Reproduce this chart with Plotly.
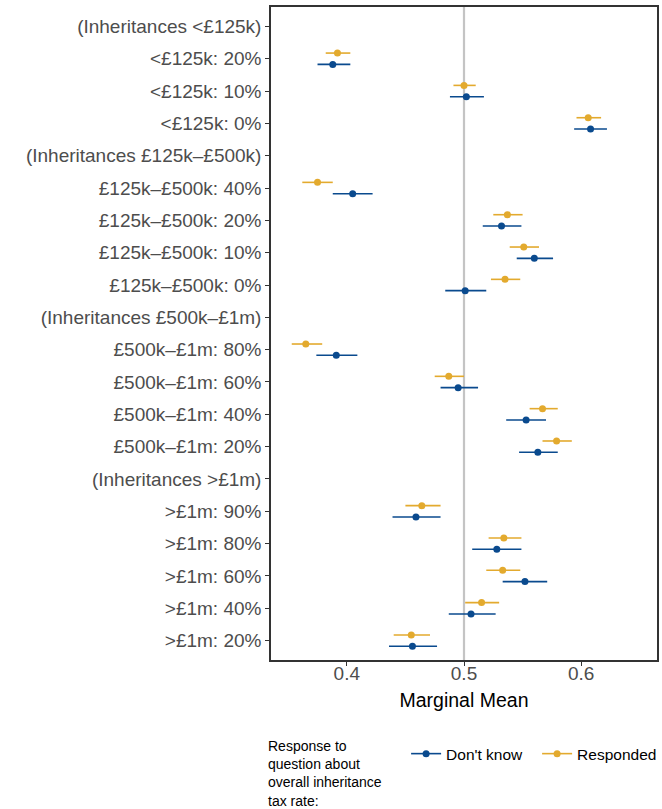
import plotly.graph_objects as go

# Row labels, top to bottom
categories = [
    "(Inheritances <£125k)",
    "<£125k: 20%",
    "<£125k: 10%",
    "<£125k: 0%",
    "(Inheritances £125k–£500k)",
    "£125k–£500k: 40%",
    "£125k–£500k: 20%",
    "£125k–£500k: 10%",
    "£125k–£500k: 0%",
    "(Inheritances £500k–£1m)",
    "£500k–£1m: 80%",
    "£500k–£1m: 60%",
    "£500k–£1m: 40%",
    "£500k–£1m: 20%",
    "(Inheritances >£1m)",
    ">£1m: 90%",
    ">£1m: 80%",
    ">£1m: 60%",
    ">£1m: 40%",
    ">£1m: 20%",
]

# Marginal means and 95% intervals ("Don't know" group)
dk_mean = [None, 0.388, 0.502, 0.608, None, 0.405, 0.532, 0.560, 0.501,
           None, 0.391, 0.495, 0.553, 0.563, None, 0.459, 0.528, 0.552, 0.506, 0.456]
dk_low = [None, 0.375, 0.488, 0.594, None, 0.388, 0.516, 0.545, 0.484,
          None, 0.374, 0.480, 0.536, 0.547, None, 0.439, 0.507, 0.533, 0.487, 0.436]
dk_high = [None, 0.403, 0.517, 0.622, None, 0.422, 0.549, 0.576, 0.519,
           None, 0.409, 0.512, 0.570, 0.580, None, 0.480, 0.549, 0.571, 0.527, 0.477]

# Marginal means and 95% intervals ("Responded" group)
re_mean = [None, 0.392, 0.500, 0.606, None, 0.375, 0.537, 0.551, 0.535,
           None, 0.365, 0.487, 0.567, 0.579, None, 0.464, 0.534, 0.533, 0.515, 0.455]
re_low = [None, 0.382, 0.491, 0.596, None, 0.362, 0.525, 0.539, 0.523,
          None, 0.353, 0.475, 0.556, 0.567, None, 0.450, 0.521, 0.519, 0.501, 0.440]
re_high = [None, 0.403, 0.510, 0.617, None, 0.388, 0.550, 0.564, 0.548,
           None, 0.379, 0.500, 0.580, 0.592, None, 0.480, 0.549, 0.548, 0.530, 0.471]

x_ticks = [0.4, 0.5, 0.6]
x_tick_labels = ["0.4", "0.5", "0.6"]
reference_value = 0.5

BLUE = "#0A4A8E"
GOLD = "#E3AA2E"
DODGE = 0.175
FONT = "Liberation Sans, Arial, sans-serif"

row_pos = list(range(len(categories)))


def series_arrays(mean, low, high, shift):
    xs, ys, plus, minus = [], [], [], []
    for i, (m, lo, hi) in enumerate(zip(mean, low, high)):
        if m is None:
            continue
        xs.append(m)
        ys.append(row_pos[i] + shift)
        plus.append(hi - m)
        minus.append(m - lo)
    return xs, ys, plus, minus


fig = go.Figure()

for name, color, mean, low, high, shift in [
    ("Don't know", BLUE, dk_mean, dk_low, dk_high, DODGE),
    ("Responded", GOLD, re_mean, re_low, re_high, -DODGE),
]:
    xs, ys, plus, minus = series_arrays(mean, low, high, shift)
    fig.add_trace(go.Scatter(
        x=xs, y=ys, mode="markers", name=name, showlegend=False,
        marker=dict(color=color, size=7),
        error_x=dict(type="data", symmetric=False, array=plus, arrayminus=minus,
                     color=color, thickness=1.6, width=0),
    ))
    # legend key: line with a point, like a pointrange glyph
    fig.add_trace(go.Scatter(
        x=[None], y=[None], mode="lines+markers", name=name,
        line=dict(color=color, width=1.6),
        marker=dict(color=color, size=7),
    ))

fig.add_shape(type="line", xref="x", yref="paper", x0=reference_value, x1=reference_value,
              y0=0, y1=1, line=dict(color="#C4C4C4", width=2.2), layer="below")

fig.add_annotation(
    text="Response to<br>question about<br>overall inheritance<br>tax rate:",
    xref="paper", yref="paper", x=-0.012, y=-0.116, xanchor="left", yanchor="top",
    align="left", showarrow=False, font=dict(family=FONT, size=14, color="#000000"),
)

fig.update_layout(
    width=662, height=809,
    margin=dict(l=271, r=5, t=7, b=149, autoexpand=False),
    paper_bgcolor="white", plot_bgcolor="white",
    font=dict(family=FONT),
    legend=dict(
        orientation="h", x=0.35, xanchor="left", y=-0.118, yanchor="top",
        font=dict(family=FONT, size=15.5, color="#000000"),
        itemwidth=30, entrywidth=86, bgcolor="rgba(0,0,0,0)",
    ),
    xaxis=dict(
        range=[0.3353, 0.6647], tickvals=x_ticks, ticktext=x_tick_labels,
        showgrid=False, zeroline=False,
        showline=True, mirror=True, linecolor="#333333", linewidth=1.5,
        ticks="outside", ticklen=4, tickcolor="#333333", tickwidth=1,
        ticklabelstandoff=-9,
        tickfont=dict(family=FONT, size=19, color="#4D4D4D"),
        title=dict(text="Marginal Mean", font=dict(family=FONT, size=19.5, color="#000000"),
                   standoff=11),
    ),
    yaxis=dict(
        range=[len(categories) - 0.4, -0.6],
        tickvals=row_pos, ticktext=categories,
        showgrid=False, zeroline=False,
        showline=True, mirror=True, linecolor="#333333", linewidth=1.5,
        ticks="outside", ticklen=4, tickcolor="#333333", tickwidth=1,
        tickfont=dict(family=FONT, size=19, color="#4D4D4D"),
    ),
)

fig.write_html("out.html")
